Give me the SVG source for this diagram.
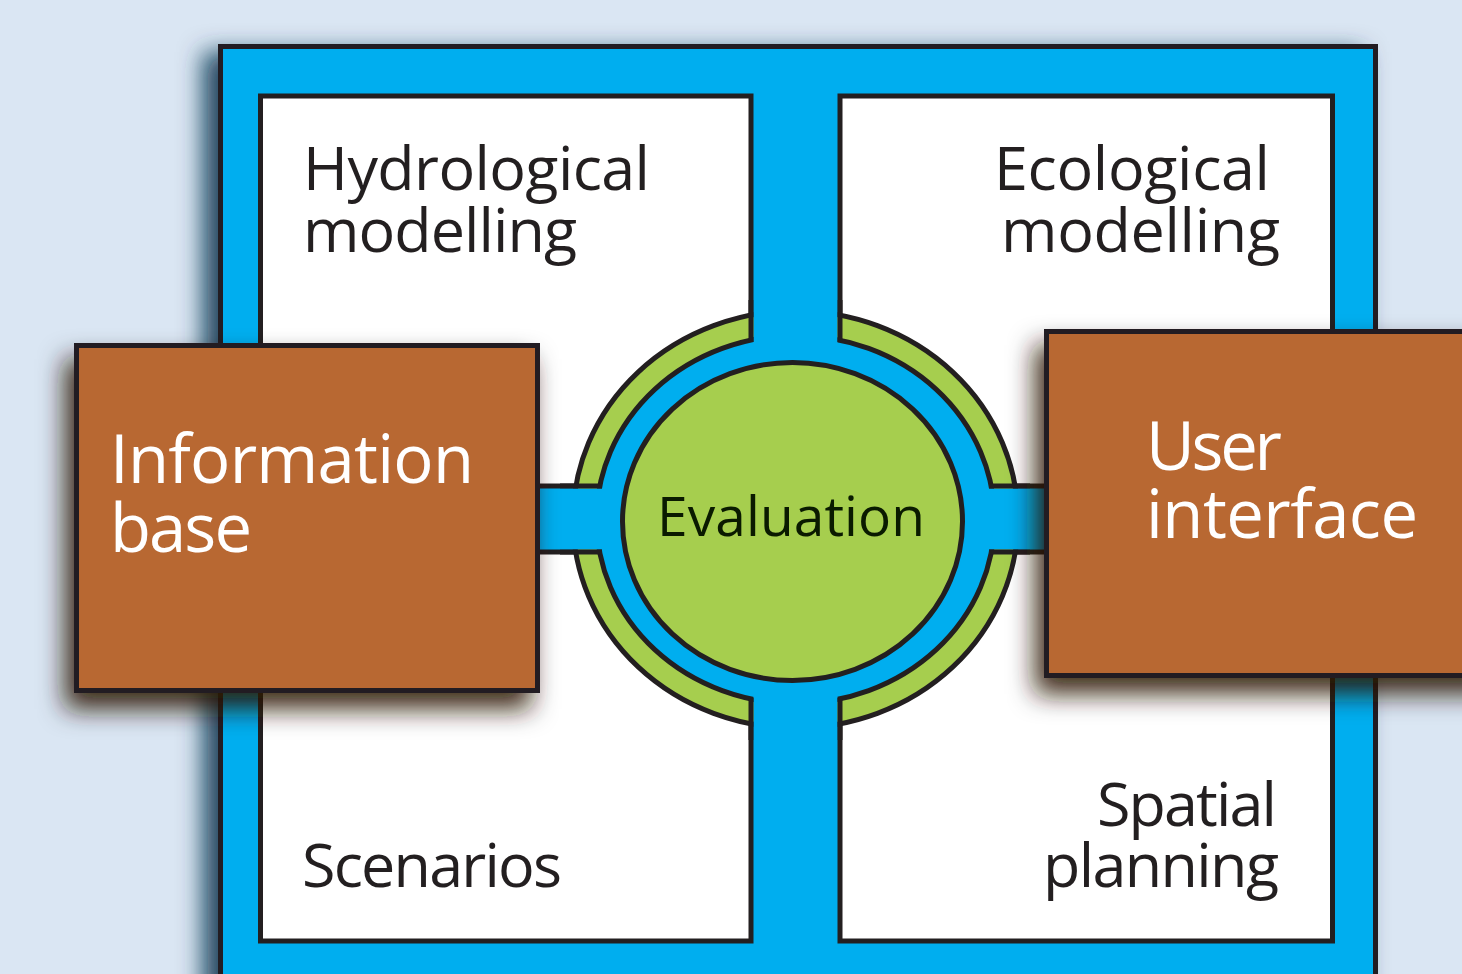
<svg xmlns="http://www.w3.org/2000/svg" width="1462" height="974" viewBox="0 0 1462 974">
<defs>
<style>
.ln{stroke:#231F20;stroke-width:5;fill:none}
.panel{fill:#FFFFFF;stroke:#231F20;stroke-width:5}
.box{fill:#B86833;stroke:#231F20;stroke-width:5}
.blue{fill:#00AEEF}
.t{font-family:"Open Sans","Noto Sans",sans-serif;fill:#231F20;font-size:61px}
.tw{font-family:"Open Sans","Noto Sans",sans-serif;fill:#FFFFFF;font-size:67px}
.te{font-family:"Open Sans","Noto Sans",sans-serif;fill:#0A1A00;font-size:55px}
</style>
<filter id="shFrame" x="-10%" y="-10%" width="120%" height="120%">
<feGaussianBlur in="SourceAlpha" stdDeviation="12"/>
<feOffset dx="-15" dy="8" result="b"/>
<feFlood flood-color="#0B3550" flood-opacity="0.9"/>
<feComposite in2="b" operator="in" result="s"/>
<feMerge><feMergeNode in="s"/><feMergeNode in="SourceGraphic"/></feMerge>
</filter>
<filter id="shBox" x="-20%" y="-20%" width="140%" height="150%">
<feGaussianBlur in="SourceAlpha" stdDeviation="13"/>
<feOffset dx="-9" dy="16" result="b"/>
<feFlood flood-color="#2A1608" flood-opacity="0.9"/>
<feComposite in2="b" operator="in" result="s"/>
<feMerge><feMergeNode in="s"/><feMergeNode in="SourceGraphic"/></feMerge>
</filter>
</defs>
<rect x="0" y="0" width="1462" height="974" fill="#DAE6F3"/>
<g id="frame">
<rect x="220.5" y="46.5" width="1155" height="1000" fill="#00AEEF" stroke="#231F20" stroke-width="5" filter="url(#shFrame)"/>
</g>
<g id="panel-hydrological">
<rect class="panel" x="260.5" y="96" width="490.5" height="390"/>
<text class="t"><tspan x="303" y="190" textLength="347" lengthAdjust="spacing">Hydrological</tspan><tspan x="303" y="252" textLength="274" lengthAdjust="spacing">modelling</tspan></text>
</g>
<g id="panel-ecological">
<rect class="panel" x="840" y="96" width="492.5" height="390"/>
<text class="t"><tspan x="994" y="190" textLength="276" lengthAdjust="spacing">Ecological</tspan><tspan x="1001" y="252" textLength="279" lengthAdjust="spacing">modelling</tspan></text>
</g>
<g id="panel-scenarios">
<rect class="panel" x="260.5" y="552" width="490.5" height="389"/>
<text class="t" x="302" y="887" textLength="260" lengthAdjust="spacing">Scenarios</text>
</g>
<g id="panel-spatial">
<rect class="panel" x="840" y="552" width="492.5" height="389"/>
<text class="t"><tspan x="1097" y="826" textLength="180" lengthAdjust="spacing">Spatial</tspan><tspan x="1043" y="887" textLength="236" lengthAdjust="spacing">planning</tspan></text>
</g>
<g id="ring">
<ellipse cx="795.5" cy="519.5" rx="222.5" ry="208.5" fill="#A6CE4E" stroke="#231F20" stroke-width="5"/>
<ellipse cx="795.5" cy="519.5" rx="199" ry="184" fill="#00AEEF" stroke="#231F20" stroke-width="5"/>
</g>
<g id="connectors">
<rect class="blue" x="753.5" y="300" width="84" height="440"/>
<rect class="blue" x="560" y="488.5" width="470" height="61"/>
<path class="ln" d="M751,300V342 M840,300V342 M751,740V698 M840,740V698 M560,486H602 M560,552H602 M1030,486H989 M1030,552H989"/>
</g>
<g id="evaluation">
<ellipse cx="792.5" cy="521.5" rx="170" ry="159" fill="#A6CE4E" stroke="#231F20" stroke-width="5"/>
<text class="te" x="657" y="536" textLength="268" lengthAdjust="spacing">Evaluation</text>
</g>
<g id="information-base" filter="url(#shBox)">
<rect class="box" x="76.5" y="345.5" width="461" height="345"/>
<text class="tw"><tspan x="110" y="483" textLength="364" lengthAdjust="spacing">Information</tspan><tspan x="110" y="552" textLength="142" lengthAdjust="spacing">base</tspan></text>
</g>
<g id="user-interface" filter="url(#shBox)">
<rect class="box" x="1046.5" y="331.5" width="460" height="344"/>
<text class="tw"><tspan x="1146" y="470" textLength="136" lengthAdjust="spacing">User</tspan><tspan x="1146" y="538" textLength="272" lengthAdjust="spacing">interface</tspan></text>
</g>
</svg>
